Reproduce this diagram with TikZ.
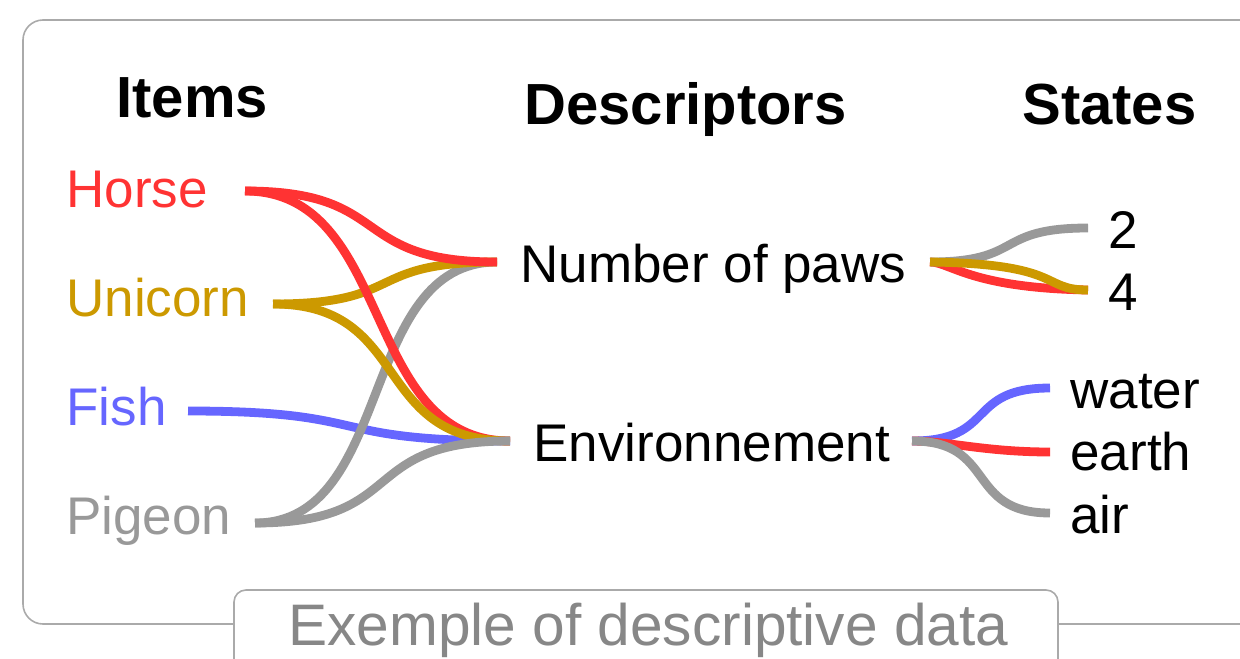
\documentclass[tikz,border=0pt]{standalone}
\usepackage{fontspec}
\setmainfont{Liberation Sans}
\definecolor{cRed}{HTML}{FF3333}
\definecolor{cGold}{HTML}{CC9900}
\definecolor{cBlue}{HTML}{6666FF}
\definecolor{cGray}{HTML}{999999}
\definecolor{cFrame}{HTML}{AAAAAA}
\definecolor{cCaption}{HTML}{878787}
\tikzset{
  lbl/.style={inner sep=0pt, anchor=base west, font=\fontsize{26.5}{30}\selectfont},
  head/.style={inner sep=0pt, anchor=base west, font=\fontsize{29}{33}\selectfont\bfseries},
  link/.style={line width=4.4pt},
}
\begin{document}
\begin{tikzpicture}[x=0.5pt, y=-0.5pt]
\useasboundingbox (0,0) rectangle (1240,658);
\begin{scope}
\clip (0,0) rectangle (1240,658);
% outer frame
\draw[cFrame, line width=0.8pt, rounded corners=10pt] (23,20) rectangle (1262,624);
% caption tab
\draw[cFrame, fill=white, line width=0.8pt, rounded corners=6pt] (234,590) rectangle (1058,690);
\end{scope}
\node[inner sep=0pt, anchor=base west, text=cCaption, font=\fontsize{29.3}{33}\selectfont] (cap) at (288,645) {Exemple of descriptive data};

% column headings
\node[head] (hItems) at (116,118) {Items};
\node[head] (hDesc) at (524,125) {Descriptors};
\node[head] (hStates) at (1022,125) {States};

% items
\node[lbl, text=cRed] (horse) at (66,207) {Horse};
\node[lbl, text=cGold] (unicorn) at (66,316) {Unicorn};
\node[lbl, text=cBlue] (fish) at (66,425) {Fish};
\node[lbl, text=cGray] (pigeon) at (66,534) {Pigeon};

% descriptors
\node[lbl] (paws) at (520,282) {Number of paws};
\node[lbl] (env) at (533,461) {Environnement};

% states
\node[lbl] (s2) at (1108,248) {2};
\node[lbl] (s4) at (1108,310) {4};
\node[lbl] (water) at (1070,408) {water};
\node[lbl] (earth) at (1070,470) {earth};
\node[lbl] (air) at (1070,533) {air};

% ports
\coordinate (pH) at (245,191);
\coordinate (pU) at (273,304);
\coordinate (pF) at (188,411);
\coordinate (pP) at (255,523);
\coordinate (pawsIn) at (497,262);
\coordinate (envIn) at (510,441);
\coordinate (pawsOut) at (930,262);
\coordinate (envOut) at (912,441);
\coordinate (p2) at (1088,228);
\coordinate (p4) at (1088,290);
\coordinate (pWater) at (1050,388);
\coordinate (pEarth) at (1050,452);
\coordinate (pAir) at (1050,513);

% items to descriptors
\draw[link, cBlue] (pF) .. controls +(190,0) and +(-190,0) .. (envIn);
\draw[link, cGray] (pP) .. controls +(140,0) and +(-140,0) .. (pawsIn);
\draw[link, cGold] (pU) .. controls +(135,0) and +(-135,0) .. (pawsIn);
\draw[link, cRed] (pH) .. controls +(150,0) and +(-150,0) .. (envIn);
\draw[link, cGold] (pU) .. controls +(140,0) and +(-140,0) .. (envIn);
\draw[link, cRed] (pH) .. controls +(150,0) and +(-150,0) .. (pawsIn);
\draw[link, cGray] (pP) .. controls +(155,0) and +(-155,0) .. (envIn);

% descriptors to states
\draw[link, cRed] (pawsOut) .. controls +(20,0) and (970,288) .. (p4);
\draw[link, cGray] (pawsOut) .. controls +(95,0) and +(-95,0) .. (p2);
\draw[link, cGold] (pawsOut) .. controls (1065,264) and (1040,290) .. (p4);
\draw[link, cBlue] (envOut) .. controls +(85,0) and +(-85,0) .. (pWater);
\draw[link, cRed] (envOut) .. controls +(35,0) and +(-65,0) .. (pEarth);
\draw[link, cGray] (envOut) .. controls +(85,0) and +(-85,0) .. (pAir);
\end{tikzpicture}
\end{document}
